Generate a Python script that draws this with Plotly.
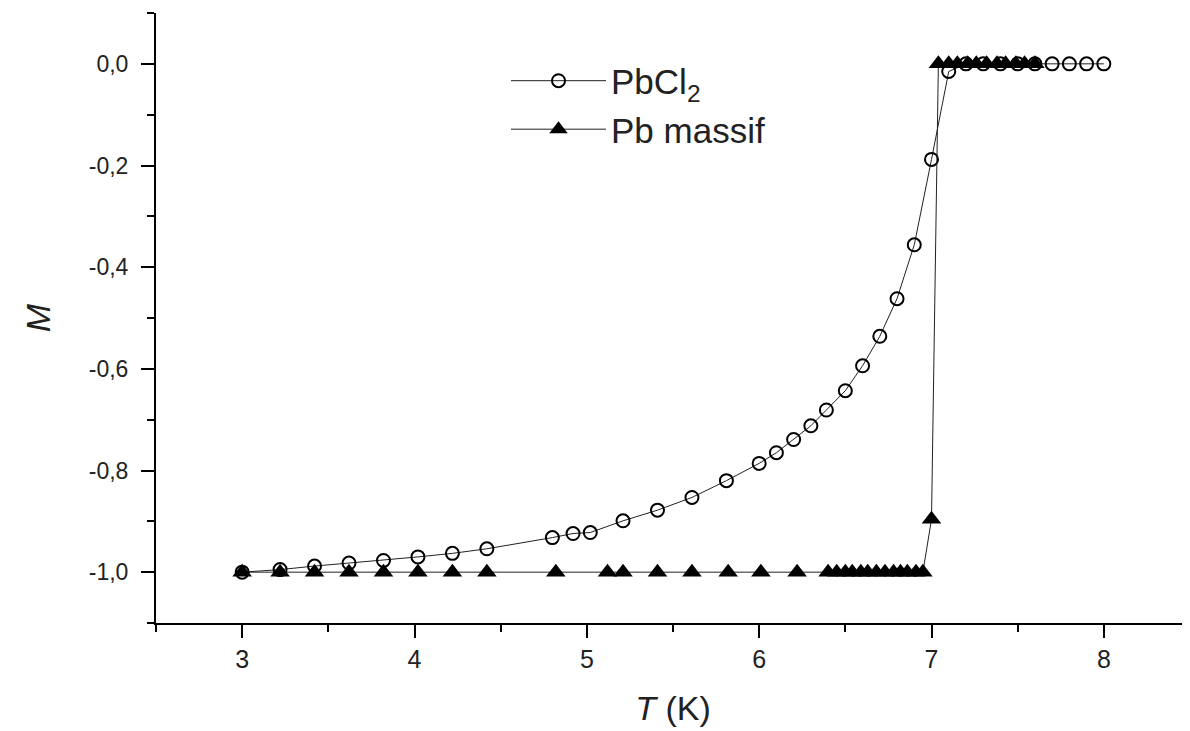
import plotly.graph_objects as go

# PbCl2 (open circles)
T_pbcl2 = [3.00, 3.22, 3.42, 3.62, 3.82, 4.02, 4.22, 4.42, 4.80, 4.92, 5.02, 5.21,
           5.41, 5.61, 5.81, 6.00, 6.10, 6.20, 6.30, 6.39, 6.50, 6.60, 6.70, 6.80,
           6.90, 7.00, 7.10, 7.20, 7.30, 7.40, 7.50, 7.60, 7.70, 7.80, 7.90, 8.00]
M_pbcl2 = [-1.000, -0.995, -0.988, -0.982, -0.977, -0.970, -0.963, -0.954, -0.932,
           -0.924, -0.922, -0.899, -0.878, -0.853, -0.820, -0.786, -0.765, -0.739,
           -0.712, -0.681, -0.643, -0.594, -0.536, -0.462, -0.356, -0.188, -0.015,
           0.0, 0.0, 0.0, 0.0, 0.0, 0.0, 0.0, 0.0, 0.0]

# Pb massif (filled triangles)
T_pb = [3.00, 3.22, 3.42, 3.62, 3.82, 4.02, 4.22, 4.42, 4.82, 5.12, 5.21, 5.41,
        5.61, 5.82, 6.01, 6.22, 6.40, 6.45, 6.50, 6.54, 6.59, 6.63, 6.68, 6.73,
        6.78, 6.82, 6.86, 6.91, 6.95, 7.00, 7.04, 7.10, 7.15, 7.21, 7.26, 7.32,
        7.38, 7.43, 7.49, 7.54, 7.60]
M_pb = [-1.0, -1.0, -1.0, -1.0, -1.0, -1.0, -1.0, -1.0, -1.0, -1.0, -1.0, -1.0,
        -1.0, -1.0, -1.0, -1.0, -1.0, -1.0, -1.0, -1.0, -1.0, -1.0, -1.0, -1.0,
        -1.0, -1.0, -1.0, -1.0, -1.0, -0.896, 0.0, 0.0, 0.0, 0.0, 0.0, 0.0,
        0.0, 0.0, 0.0, 0.0, 0.0]

x_tickvals = [3, 4, 5, 6, 7, 8]
x_ticktext = ["3", "4", "5", "6", "7", "8"]
y_tickvals = [0.0, -0.2, -0.4, -0.6, -0.8, -1.0]
y_ticktext = ["0,0", "-0,2", "-0,4", "-0,6", "-0,8", "-1,0"]

FONT = "Liberation Sans, Arial, sans-serif"
FONT_NARROW = "Liberation Sans Narrow, Arial Narrow, Liberation Sans, sans-serif"

fig = go.Figure()
fig.add_trace(go.Scatter(
    x=T_pbcl2, y=M_pbcl2, mode="lines+markers", name="PbCl<sub>2</sub>",
    line=dict(color="#222222", width=1),
    marker=dict(symbol="circle-open", size=13, color="black", line=dict(width=2, color="black")),
))
fig.add_trace(go.Scatter(
    x=T_pb, y=M_pb, mode="lines+markers", name="Pb massif",
    line=dict(color="#222222", width=1),
    marker=dict(symbol="triangle-up", size=17, color="black", line=dict(width=0)),
))

axis_common = dict(
    showline=True, linecolor="black", linewidth=2,
    ticks="outside", ticklen=13, tickwidth=2, tickcolor="black",
    showgrid=False, zeroline=False, mirror=False,
)

fig.update_xaxes(
    range=[2.5, 8.5], tickvals=x_tickvals, ticktext=x_ticktext,
    tickfont=dict(family=FONT_NARROW, size=25, color="#222222"),
    minor=dict(ticks="outside", ticklen=7, tickwidth=2, tickcolor="black", dtick=0.5, tick0=2.5),
    title=dict(text="<i>T</i> (K)", font=dict(family=FONT, size=34, color="#222222"), standoff=24),
    ticklabelstandoff=0,
    **axis_common,
)
fig.update_yaxes(
    range=[-1.1, 0.1], tickvals=y_tickvals, ticktext=y_ticktext,
    tickfont=dict(family=FONT, size=23, color="#222222"),
    minor=dict(ticks="outside", ticklen=7, tickwidth=2, tickcolor="black", dtick=0.1, tick0=0),
    title=dict(text="<i>M</i>", font=dict(family=FONT, size=34, color="#222222"), standoff=28),
    ticklabelstandoff=8,
    **axis_common,
)

# page body has an 8px margin: figure is 1182x723 so that it fits the 1190x731 window
fig.update_layout(
    width=1182, height=723,
    margin=dict(l=148, r=0, t=5, b=108),
    paper_bgcolor="white", plot_bgcolor="white",
    showlegend=True,
    legend=dict(
        x=0.3385, y=0.937, xanchor="left", yanchor="top",
        font=dict(family=FONT, size=35, color="#222222"),
        bgcolor="rgba(0,0,0,0)", borderwidth=0,
        itemwidth=95, tracegroupgap=0,
    ),
)

fig.write_html("out.html")
